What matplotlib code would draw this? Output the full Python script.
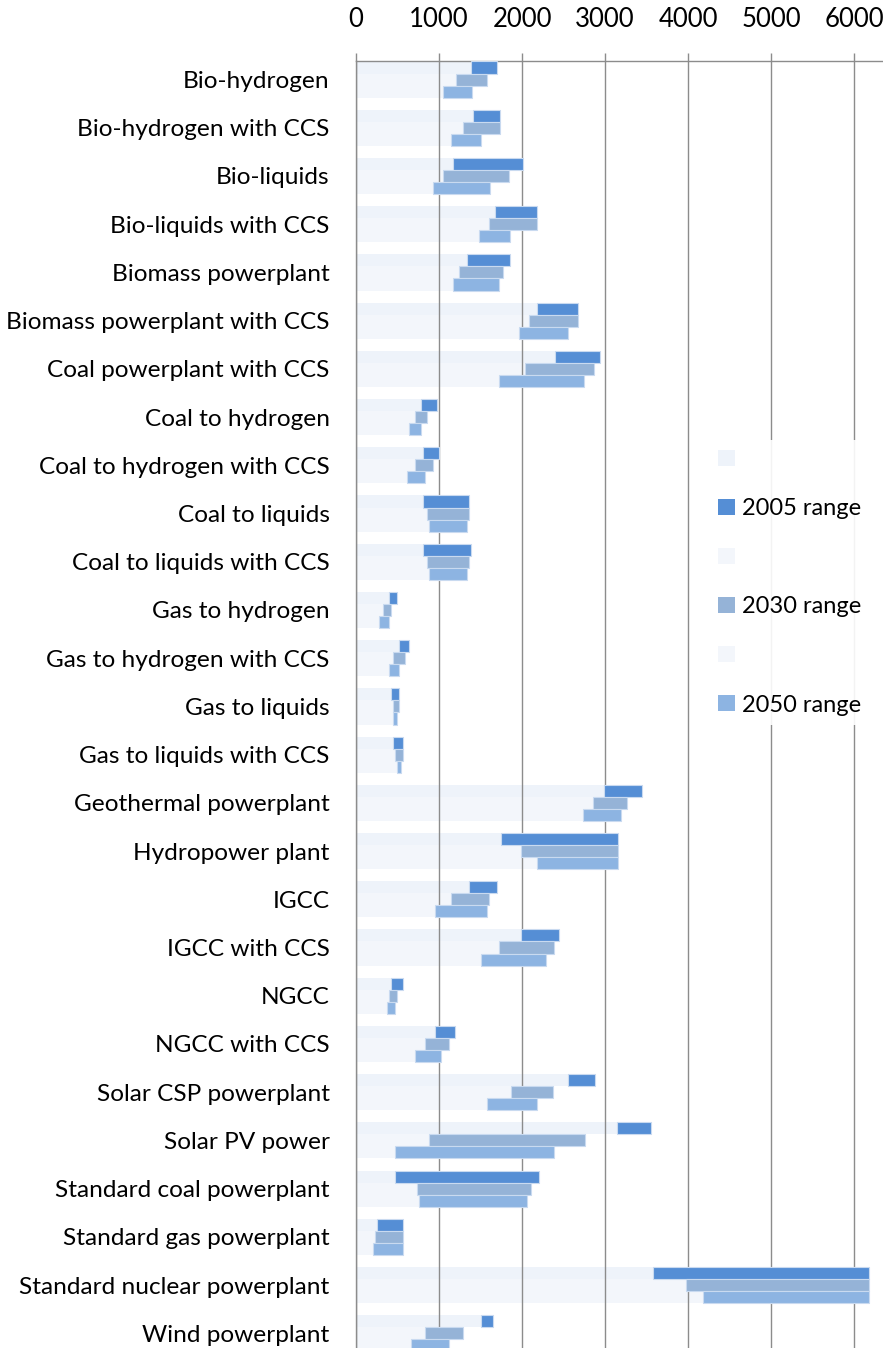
import numpy as np
import matplotlib.pyplot as plt
from matplotlib.patches import Patch

plt.rcParams['font.family'] = ['Lato', 'DejaVu Sans']

categories = ["Bio-hydrogen", "Bio-hydrogen with CCS", "Bio-liquids", "Bio-liquids with CCS",
              "Biomass powerplant", "Biomass powerplant with CCS", "Coal powerplant with CCS",
              "Coal to hydrogen", "Coal to hydrogen with CCS", "Coal to liquids",
              "Coal to liquids with CCS", "Gas to hydrogen", "Gas to hydrogen with CCS",
              "Gas to liquids", "Gas to liquids with CCS", "Geothermal powerplant",
              "Hydropower plant", "IGCC", "IGCC with CCS", "NGCC", "NGCC with CCS",
              "Solar CSP powerplant", "Solar PV power", "Standard coal powerplant",
              "Standard gas powerplant", "Standard nuclear powerplant", "Wind powerplant"]

# lower / upper ends of each range
lo2005 = [1390, 1410, 1170, 1680, 1340, 2180, 2400, 780, 810, 810, 810, 400, 520, 420, 450,
          2990, 1750, 1360, 1990, 420, 950, 2560, 3140, 470, 250, 3580, 1510]
hi2005 = [1700, 1740, 2010, 2180, 1860, 2680, 2940, 980, 1000, 1360, 1390, 490, 640, 520, 570,
          3450, 3160, 1700, 2440, 570, 1190, 2880, 3550, 2200, 570, 6180, 1650]
lo2030 = [1200, 1290, 1050, 1600, 1240, 2090, 2040, 710, 710, 860, 860, 330, 450, 450, 470,
          2850, 1990, 1150, 1720, 400, 830, 1870, 880, 730, 230, 3980, 830]
hi2030 = [1580, 1740, 1840, 2180, 1770, 2680, 2870, 860, 930, 1360, 1360, 420, 590, 520, 570,
          3260, 3160, 1600, 2390, 490, 1120, 2370, 2760, 2110, 570, 6180, 1290]
lo2050 = [1050, 1150, 930, 1480, 1170, 1960, 1720, 640, 620, 880, 880, 280, 400, 450, 490,
          2730, 2180, 950, 1510, 370, 710, 1580, 470, 760, 200, 4180, 660]
hi2050 = [1400, 1500, 1620, 1860, 1720, 2560, 2750, 780, 830, 1340, 1340, 400, 520, 490, 540,
          3190, 3160, 1580, 2290, 470, 1020, 2180, 2390, 2060, 570, 6180, 1120]

series = [
    ("2005 range", lo2005, hi2005, '#eef3fa', '#558ed5', -0.25),
    ("2030 range", lo2030, hi2030, '#f3f6fb', '#95b3d7', 0.0),
    ("2050 range", lo2050, hi2050, '#f3f6fb', '#8db4e2', 0.25),
]

fig = plt.figure(figsize=(8.83, 13.48), dpi=100)
ax = fig.add_axes([0.4032, 0.0, 0.5968, 0.9544])

y = np.arange(len(categories))
h = 0.25
handles, labels = [], []
for name, lo, hi, base_c, c, off in series:
    lo = np.array(lo)
    hi = np.array(hi)
    ax.barh(y + off, lo, height=h, color=base_c, linewidth=0, zorder=2)
    ax.barh(y + off, hi - lo, left=lo, height=h, color=c, edgecolor='#c9daf0',
            linewidth=0.8, zorder=3)
    handles += [Patch(facecolor=base_c), Patch(facecolor=c)]
    labels += ["", name]

ax.set_xlim(0, 6350)
ax.set_ylim(26.305, -0.375)
ax.set_yticks(y)
ax.set_yticklabels(categories, fontsize=17.6)
ax.set_xticks(range(0, 7000, 1000))
ax.xaxis.tick_top()
ax.tick_params(axis='x', direction='out', length=6, width=1.0, color='#8c8c8c',
               pad=15, labelsize=18.5)
ax.tick_params(axis='y', length=0, pad=19)
ax.set_axisbelow(False)
ax.grid(axis='x', color='#8c8c8c', linewidth=1.0)
for s in ['right', 'bottom']:
    ax.spines[s].set_visible(False)
for s in ['top', 'left']:
    ax.spines[s].set_color('#8c8c8c')
    ax.spines[s].set_linewidth(1.0)

leg = fig.legend(handles, labels, loc='center left', bbox_to_anchor=(0.802, 0.568),
                 frameon=True, fontsize=17, handlelength=0.72, handleheight=0.68,
                 handletextpad=0.3, labelspacing=1.19, borderpad=0.4, borderaxespad=0)
leg.get_frame().set_facecolor('white')
leg.get_frame().set_alpha(0.9)
leg.get_frame().set_linewidth(0)
leg.set_zorder(5)

fig.savefig("out.png", dpi=100)
